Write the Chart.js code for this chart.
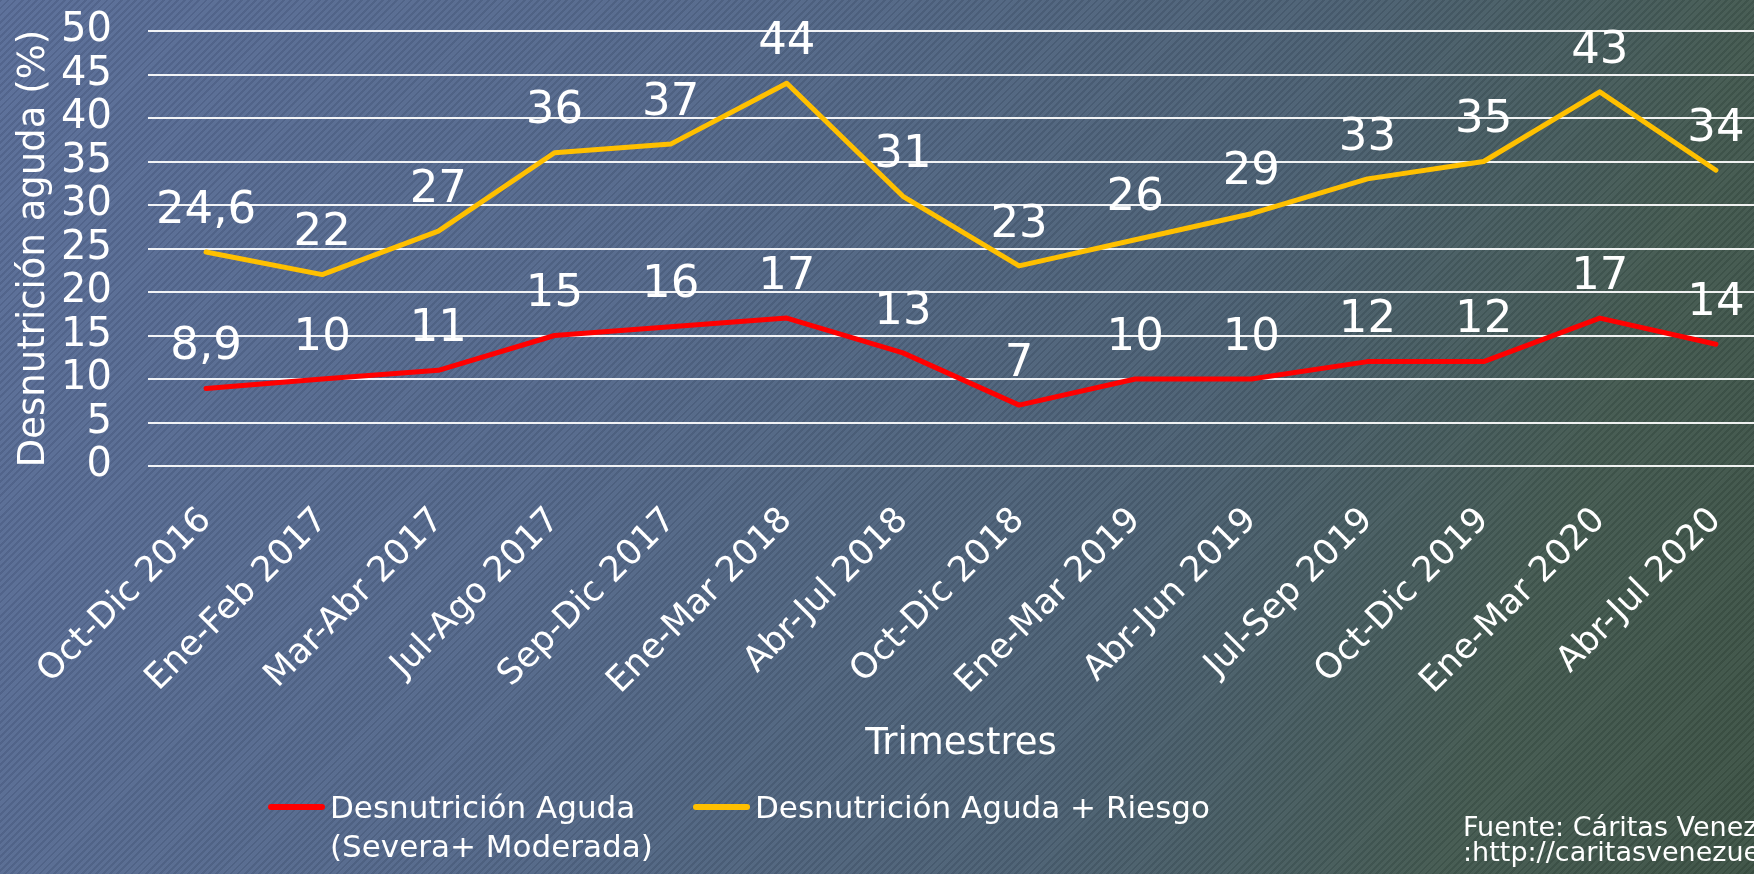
<!DOCTYPE html>
<html>
<head>
<meta charset="utf-8">
<script src="https://cdn.jsdelivr.net/npm/chart.js@4.4.1/dist/chart.umd.min.js"></script>
<style>
    html, body {
        margin: 0;
        padding: 0;
        width: 1754px;
        height: 874px;
        overflow: hidden;
    }
    body {
        position: relative;
        background:
            repeating-linear-gradient(135deg, rgba(0,0,0,0.07) 0px, rgba(0,0,0,0.07) 2px, rgba(255,255,255,0.03) 2px, rgba(255,255,255,0.03) 5px),
            linear-gradient(110deg, #596d98 0%, #54688b 35%, #4b6073 65%, #435950 85%, #3c5244 100%);
    }
    #chart {
        position: absolute;
        left: 0;
        top: 0;
    }
</style>
</head>
<body>
<canvas id="chart" width="1776" height="874"></canvas>
<script>
const categories = [
    "Oct-Dic 2016", "Ene-Feb 2017", "Mar-Abr 2017", "Jul-Ago 2017", "Sep-Dic 2017",
    "Ene-Mar 2018", "Abr-Jul 2018", "Oct-Dic 2018", "Ene-Mar 2019", "Abr-Jun 2019",
    "Jul-Sep 2019", "Oct-Dic 2019", "Ene-Mar 2020", "Abr-Jul 2020"
];
const agudaValues = [8.9, 10, 11, 15, 16, 17, 13, 7, 10, 10, 12, 12, 17, 14];
const riesgoValues = [24.6, 22, 27, 36, 37, 44, 31, 23, 26, 29, 33, 35, 43, 34];
const yTicks = [0, 5, 10, 15, 20, 25, 30, 35, 40, 45, 50];

const legendLines = [
    ["Desnutrición Aguda", "(Severa+ Moderada)"],
    ["Desnutrición Aguda + Riesgo"]
];
const sourceLines = ["Fuente: Cáritas Venezuela", ":http://caritasvenezuela.org"];

const FONT = "'DejaVu Sans', sans-serif";

// value labels above each point, with a decimal comma
const valueLabels = {
    id: "valueLabels",
    afterDatasetsDraw(chart) {
        const ctx = chart.ctx;
        ctx.save();
        ctx.font = "45px " + FONT;
        ctx.fillStyle = "#ffffff";
        ctx.textAlign = "center";
        ctx.textBaseline = "middle";
        chart.data.datasets.forEach((ds, i) => {
            chart.getDatasetMeta(i).data.forEach((pt, j) => {
                let txt = String(ds.data[j]).replace(".", ",");
                ctx.fillText(txt, pt.x, pt.y - 41);
            });
        });
        ctx.restore();
    }
};

// legend + source note under the axis
const bottomText = {
    id: "bottomText",
    afterDraw(chart) {
        const ctx = chart.ctx;
        ctx.save();
        const items = [
            { x: 268, lines: legendLines[0] },
            { x: 693, lines: legendLines[1] }
        ];
        items.forEach((it, i) => {
            ctx.strokeStyle = chart.data.datasets[i].borderColor;
            ctx.lineWidth = 6;
            ctx.lineCap = "round";
            ctx.beginPath();
            ctx.moveTo(it.x + 3, 807);
            ctx.lineTo(it.x + 54, 807);
            ctx.stroke();

            ctx.font = "31px " + FONT;
            ctx.fillStyle = "#ffffff";
            ctx.textAlign = "left";
            ctx.textBaseline = "alphabetic";
            it.lines.forEach((l, k) => ctx.fillText(l, it.x + 62, 818 + k * 39));
        });

        ctx.font = "27px " + FONT;
        ctx.fillStyle = "#ffffff";
        sourceLines.forEach((l, k) => ctx.fillText(l, 1463, 836 + k * 25));
        ctx.restore();
    }
};

new Chart(document.getElementById("chart"), {
    type: "line",
    data: {
        labels: categories,
        datasets: [
            {
                label: legendLines[0].join(" "),
                data: agudaValues,
                borderColor: "#ff0000",
                borderWidth: 5,
                pointRadius: 0,
                tension: 0,
                borderCapStyle: "round",
                borderJoinStyle: "round"
            },
            {
                label: legendLines[1].join(" "),
                data: riesgoValues,
                borderColor: "#ffc000",
                borderWidth: 5,
                pointRadius: 0,
                tension: 0,
                borderCapStyle: "round",
                borderJoinStyle: "round"
            }
        ]
    },
    options: {
        responsive: false,
        animation: false,
        layout: {
            padding: { top: 31, right: 2, bottom: 103, left: 0 }
        },
        plugins: {
            legend: { display: false },
            tooltip: { enabled: false }
        },
        scales: {
            x: {
                offset: true,
                grid: { display: false, drawTicks: false },
                border: { display: false },
                ticks: {
                    color: "#ffffff",
                    font: { family: FONT, size: 35 },
                    minRotation: 45,
                    maxRotation: 45,
                    autoSkip: false,
                    padding: 34
                },
                title: {
                    display: true,
                    text: "Trimestres",
                    color: "#ffffff",
                    font: { family: FONT, size: 37 },
                    padding: 4
                },
                afterFit(scale) {
                    scale.height = 305;
                    scale.paddingLeft = 0;
                    scale.paddingRight = 0;
                }
            },
            y: {
                min: 0,
                max: 50,
                afterBuildTicks(scale) {
                    scale.ticks = yTicks.map(v => ({ value: v }));
                },
                grid: {
                    color: "rgba(255,255,255,0.92)",
                    lineWidth: 2,
                    drawTicks: false
                },
                border: { display: false },
                ticks: {
                    color: "#ffffff",
                    font: { family: FONT, size: 40 },
                    padding: 36,
                    autoSkip: false
                },
                title: {
                    display: true,
                    text: "Desnutrición aguda (%)",
                    color: "#ffffff",
                    font: { family: FONT, size: 37 },
                    padding: 12
                },
                afterFit(scale) {
                    scale.width = 148;
                    scale.paddingTop = 0;
                    scale.paddingBottom = 0;
                }
            }
        }
    },
    plugins: [valueLabels, bottomText]
});
</script>
</body>
</html>
